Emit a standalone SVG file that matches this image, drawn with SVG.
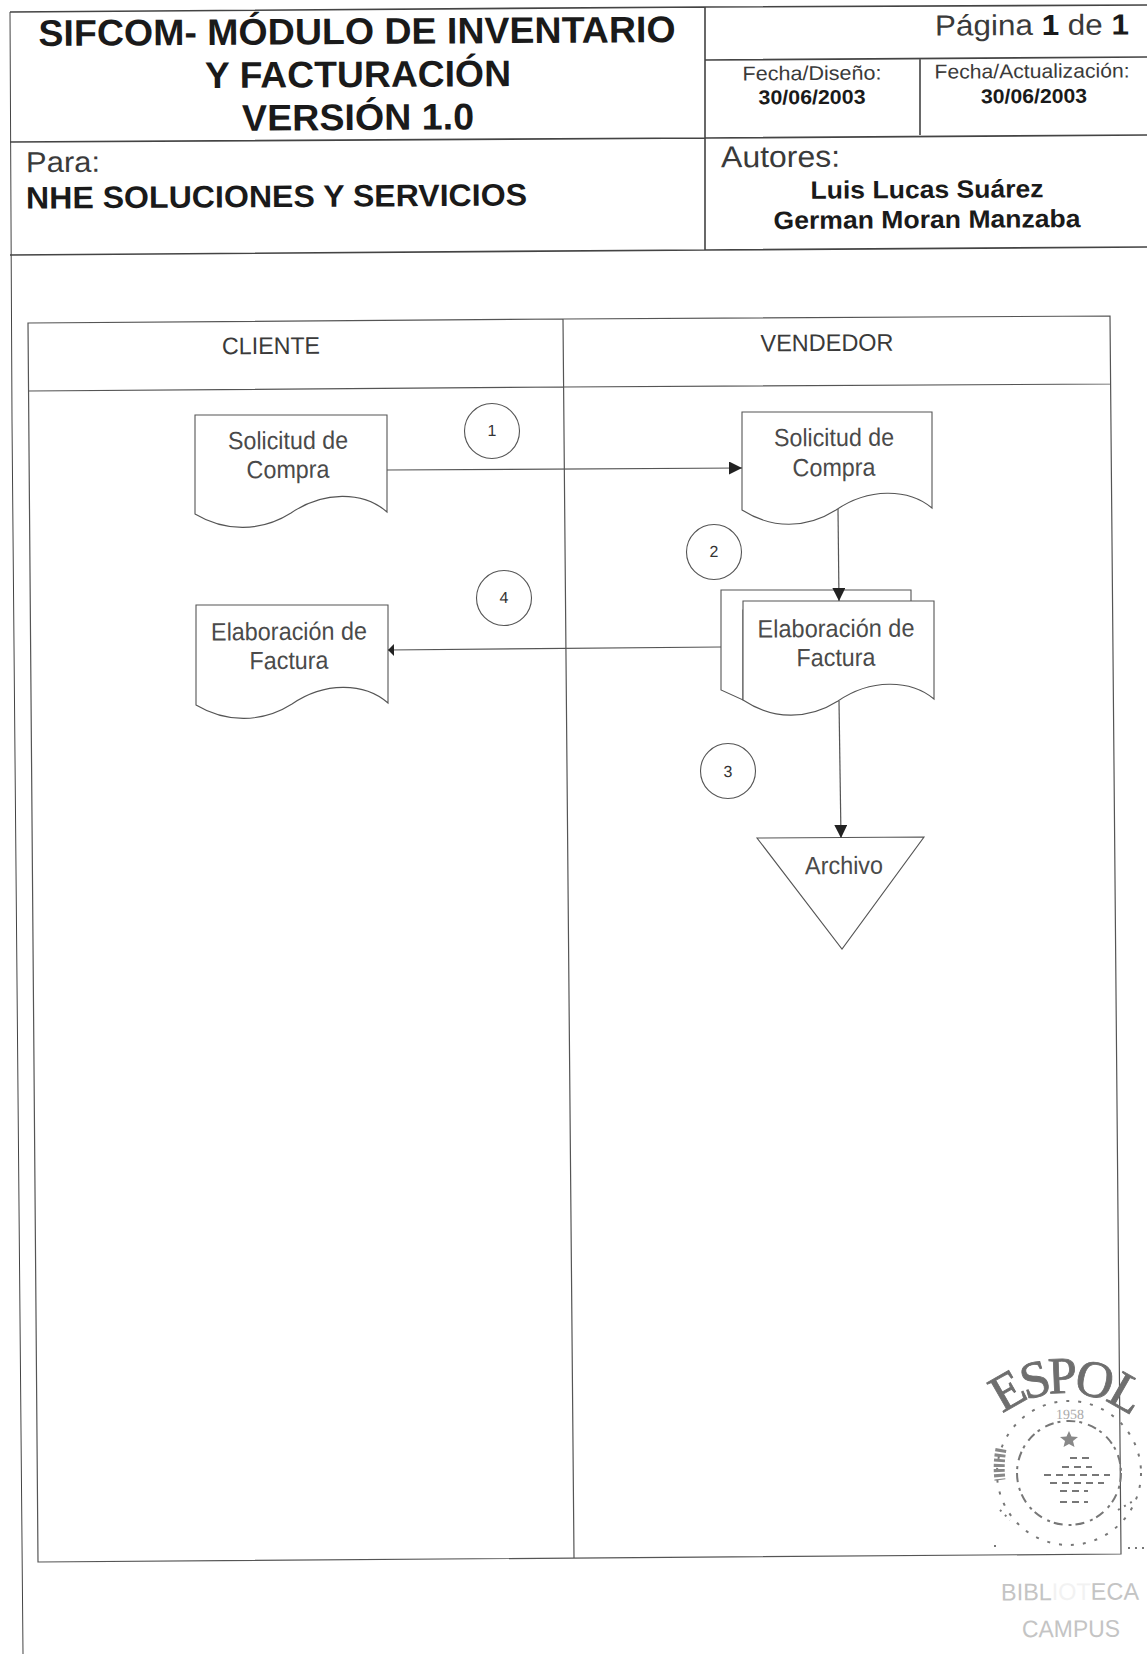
<svg xmlns="http://www.w3.org/2000/svg" xmlns:xlink="http://www.w3.org/1999/xlink" width="1147" height="1654" viewBox="0 0 1147 1654">
<style>
text{font-family:"Liberation Sans",Arial,sans-serif;fill:#3a3a3a;text-anchor:middle;transform-box:fill-box;transform-origin:center;transform:rotate(-.35deg)}
.b{font-weight:700;fill:#1a1a1a}
.l{text-anchor:start}
.frame{stroke:#444;stroke-width:1.6;fill:none}
.lane{stroke:#555;stroke-width:1.2;fill:none}
.shape{stroke:#555;stroke-width:1.1;fill:#fff}
.conn{stroke:#555;stroke-width:1.2;fill:none}
.d{font-size:25px;fill:#4a4a4a}
.n{font-size:16px;fill:#333}
.s{fill:none;stroke:#777}
.stamp{fill:#6e6e6e;stroke:#6e6e6e;stroke-width:.8;font-family:"Liberation Serif",serif;letter-spacing:-5px}
</style>
<defs>
<marker id="ah" markerUnits="userSpaceOnUse" markerWidth="14" markerHeight="14" refX="13" refY="6.5" orient="auto"><path d="M0,0L13,6.5L0,13Z" fill="#222"/></marker>
<marker id="ahs" markerUnits="userSpaceOnUse" markerWidth="8" markerHeight="14" refX="6" refY="6" orient="auto"><path d="M0,0L6,6L0,12Z" fill="#222"/></marker>
</defs>
<rect width="1147" height="1654" fill="#fff"/>
<g id="header">
<path class="frame" d="M10,12L705,7L1147,5M10,142L705,138L1147,135M10,255L705,250L1147,247M705,60L1147,57M705,7V250M920,59V135"/>
<path class="frame" style="stroke-width:1" d="M10,12L12,420L23,1654"/>
<text class="b" x="357" y="44" font-size="37" textLength="637" lengthAdjust="spacingAndGlyphs">SIFCOM- MÓDULO DE INVENTARIO</text>
<text class="b" x="358" y="87" font-size="37" textLength="306" lengthAdjust="spacingAndGlyphs">Y FACTURACIÓN</text>
<text class="b" x="358" y="130" font-size="37" textLength="232" lengthAdjust="spacingAndGlyphs">VERSIÓN 1.0</text>
<text x="1032" y="35" font-size="29" textLength="194" lengthAdjust="spacingAndGlyphs">Página <tspan class="b">1</tspan> de <tspan class="b">1</tspan></text>
<text x="812" y="80" font-size="20" textLength="139" lengthAdjust="spacingAndGlyphs">Fecha/Diseño:</text>
<text class="b" x="812" y="104" font-size="20" textLength="107" lengthAdjust="spacingAndGlyphs">30/06/2003</text>
<text x="1032" y="78" font-size="20" textLength="195" lengthAdjust="spacingAndGlyphs">Fecha/Actualización:</text>
<text class="b" x="1034" y="103" font-size="20" textLength="106" lengthAdjust="spacingAndGlyphs">30/06/2003</text>
<text class="l" x="26" y="172" font-size="29" textLength="74" lengthAdjust="spacingAndGlyphs">Para:</text>
<text class="l b" x="26" y="207" font-size="31" textLength="501" lengthAdjust="spacingAndGlyphs">NHE SOLUCIONES Y SERVICIOS</text>
<text class="l" x="721" y="167" font-size="30" textLength="119" lengthAdjust="spacingAndGlyphs">Autores:</text>
<text class="b" x="927" y="198" font-size="25" textLength="233" lengthAdjust="spacingAndGlyphs">Luis Lucas Suárez</text>
<text class="b" x="927" y="228" font-size="25" textLength="307" lengthAdjust="spacingAndGlyphs">German Moran Manzaba</text>
</g>
<g id="swimlanes">
<path class="lane" d="M28,323L563,319L1110,316L1121,1554L38,1562L28,323ZM28,391L563,387L1110,384M563,319L574,1558"/>
<text x="271" y="354" font-size="24" textLength="98" lengthAdjust="spacingAndGlyphs">CLIENTE</text>
<text x="827" y="351" font-size="24" textLength="133" lengthAdjust="spacingAndGlyphs">VENDEDOR</text>
</g>
<g id="doc-solicitud-cliente">
<path class="shape" d="M195,415H387V512C363,491 323,491 291,513C261,532 225,532 195,514Z"/>
<text class="d" x="288" y="449" textLength="120" lengthAdjust="spacingAndGlyphs">Solicitud de</text>
<text class="d" x="288" y="478" textLength="83" lengthAdjust="spacingAndGlyphs">Compra</text>
</g>
<g id="doc-solicitud-vendedor">
<path class="shape" d="M742,412H932V508C908,488 868,488 836,510C806,529 772,529 742,510Z"/>
<text class="d" x="834" y="446" textLength="120" lengthAdjust="spacingAndGlyphs">Solicitud de</text>
<text class="d" x="834" y="476" textLength="83" lengthAdjust="spacingAndGlyphs">Compra</text>
</g>
<g id="doc-factura-cliente">
<path class="shape" d="M196,605H388V703C364,682 324,682 292,704C262,723 226,723 196,705Z"/>
<text class="d" x="289" y="640" textLength="156" lengthAdjust="spacingAndGlyphs">Elaboración de</text>
<text class="d" x="289" y="669" textLength="79" lengthAdjust="spacingAndGlyphs">Factura</text>
</g>
<g id="doc-factura-vendedor">
<path class="shape" d="M721,590H911V610H743V700L721,690Z"/>
<path class="shape" d="M743,601H934V699C910,679 870,679 838,701C808,720 773,720 743,700Z"/>
<text class="d" x="836" y="637" textLength="157" lengthAdjust="spacingAndGlyphs">Elaboración de</text>
<text class="d" x="836" y="666" textLength="79" lengthAdjust="spacingAndGlyphs">Factura</text>
</g>
<g id="archivo">
<path class="shape" d="M757,838L924,837L842,949Z"/>
<text class="d" x="844" y="874" textLength="78" lengthAdjust="spacingAndGlyphs">Archivo</text>
</g>
<g id="paso-1"><circle class="shape" cx="492" cy="431" r="27.5"/><text class="n" x="492" y="436">1</text></g>
<g id="paso-2"><circle class="shape" cx="714" cy="552" r="27.5"/><text class="n" x="714" y="557">2</text></g>
<g id="paso-3"><circle class="shape" cx="728" cy="771" r="27.5"/><text class="n" x="728" y="777">3</text></g>
<g id="paso-4"><circle class="shape" cx="504" cy="598" r="27.5"/><text class="n" x="504" y="603">4</text></g>
<g id="connectors">
<path class="conn" d="M387,470L742,468" marker-end="url(#ah)"/>
<path class="conn" d="M838,509L839,601" marker-end="url(#ah)"/>
<path class="conn" d="M839,701L841,838" marker-end="url(#ah)"/>
<path class="conn" d="M721,647L388,650" marker-end="url(#ahs)"/>
</g>
<g id="sello">
<path id="arc" fill="none" d="M962,1496A103,103 0 0 1 1168,1496"/>
<text class="stamp" font-size="52" style="transform:none"><textPath href="#arc" xlink:href="#arc" startOffset="50%">ESPOL</textPath></text>
<text x="1070" y="1419" font-size="14" style="fill:#aaa;font-family:'Liberation Serif',serif">1958</text>
<circle class="s" cx="1069" cy="1473" r="52" stroke-width="2" stroke-dasharray="9 4 3 6"/>
<circle class="s" cx="1069" cy="1473" r="72" stroke-width="2" stroke-dasharray="3 9"/>
<path class="s" stroke-width="11" stroke-dasharray="3 2" d="M1001,1449Q998,1465 1000,1480" style="stroke:#888"/>
<path d="M1069,1431L1071.5,1436.5L1078,1437L1073,1441L1074.5,1447L1069,1444L1063.5,1447L1065,1441L1060,1437L1066.5,1436.5Z" fill="#888"/>
<path class="s" stroke-width="2" stroke-dasharray="7 5" d="M1070,1458H1094M1062,1467H1092M1044,1475H1110M1050,1483H1104M1060,1491H1088M1060,1502H1088"/>
<path class="s" stroke-width="2" stroke-dasharray="2 5" d="M1000,1510L1010,1520M1118,1510L1135,1500M994,1546L1000,1546M1128,1548L1145,1548"/>
<text x="1070" y="1600" font-size="24" textLength="138" lengthAdjust="spacingAndGlyphs" style="fill:#c4c4c4">BIBL<tspan style="fill:#f2f2f2">IOT</tspan>ECA</text>
<text x="1071" y="1637" font-size="24" textLength="98" lengthAdjust="spacingAndGlyphs" style="fill:#c4c4c4">CAMPUS</text>
</g>
</svg>
